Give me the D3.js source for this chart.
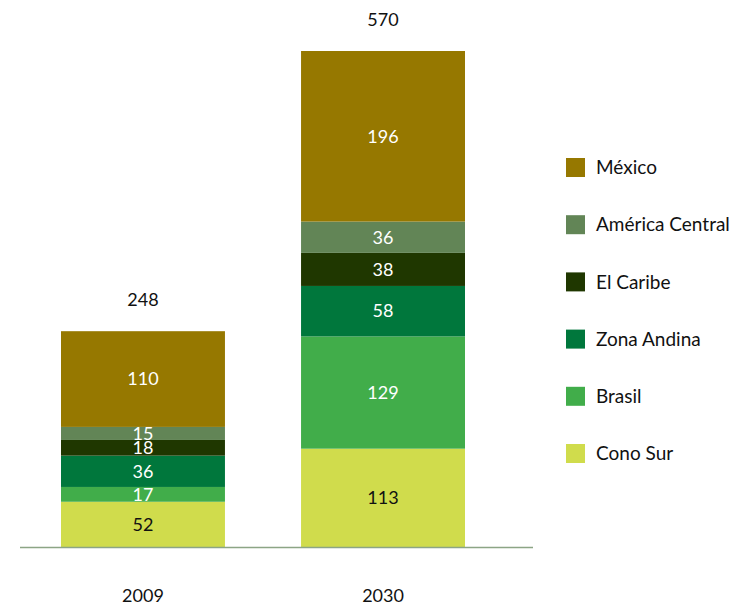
<!DOCTYPE html>
<html>
<head>
<meta charset="utf-8">
<script src="https://cdn.jsdelivr.net/npm/d3@7"></script>
<style>
  html, body { margin: 0; padding: 0; background: #fff; }
  svg text { font-family: Lato, "Open Sans", sans-serif; }
</style>
</head>
<body>
<svg id="chart" width="736" height="610"></svg>
<script>
// Years on the x axis
const years = ["2009", "2030"];
// Regions, stacked bottom to top
const regions = ["Cono Sur", "Brasil", "Zona Andina", "El Caribe", "América Central", "México"];
// Values per region, one entry per year
const conoSur = [52, 113];
const brasil = [17, 129];
const zonaAndina = [36, 58];
const elCaribe = [18, 38];
const americaCentral = [15, 36];
const mexico = [110, 196];
// Totals printed above the bars
const totals = [248, 570];

const colors = ["#D0DC4C", "#41AD4A", "#00773C", "#1F3700", "#628556", "#967800"];
const labelColors = ["#111", "#fff", "#fff", "#fff", "#fff", "#fff"];

const seriesValues = [conoSur, brasil, zonaAndina, elCaribe, americaCentral, mexico];
const rows = years.map((y, i) => {
  const r = { year: y };
  regions.forEach((name, k) => { r[name] = seriesValues[k][i]; });
  return r;
});

const svg = d3.select("#chart");

const x = d3.scaleBand().domain(years).range([61, 465]).paddingInner(0.317).paddingOuter(0);
const y = d3.scaleLinear().domain([0, 570]).range([547, 51]);

const stack = d3.stack().keys(regions)(rows);

const layer = svg.append("g").selectAll("g")
  .data(stack).join("g")
  .attr("fill", (d, i) => colors[i]);

layer.selectAll("rect")
  .data(d => d)
  .join("rect")
  .attr("x", d => x(d.data.year))
  .attr("width", x.bandwidth())
  .attr("y", d => y(d[1]))
  .attr("height", d => y(d[0]) - y(d[1]));

// Segment value labels
stack.forEach((s, k) => {
  svg.append("g").selectAll("text")
    .data(s).join("text")
    .attr("x", d => x(d.data.year) + x.bandwidth() / 2)
    .attr("y", d => (y(d[0]) + y(d[1])) / 2)
    .attr("dy", "0.35em")
    .attr("text-anchor", "middle")
    .attr("font-size", 18)
    .attr("fill", labelColors[k])
    .text(d => d[1] - d[0]);
});

// Baseline
svg.append("line")
  .attr("x1", 20).attr("x2", 533)
  .attr("y1", y(0) + 0.5).attr("y2", y(0) + 0.5)
  .attr("stroke", "#8CA585").attr("stroke-width", 1.5);

// Totals above bars
svg.append("g").selectAll("text")
  .data(years).join("text")
  .attr("x", d => x(d) + x.bandwidth() / 2)
  .attr("y", (d, i) => y(totals[i]) - 31)
  .attr("dy", "0.35em")
  .attr("text-anchor", "middle")
  .attr("font-size", 18)
  .attr("fill", "#111")
  .text((d, i) => totals[i]);

// Year labels
svg.append("g").selectAll("text")
  .data(years).join("text")
  .attr("x", d => x(d) + x.bandwidth() / 2)
  .attr("y", 596)
  .attr("dy", "0.35em")
  .attr("text-anchor", "middle")
  .attr("font-size", 18)
  .attr("fill", "#111")
  .text(d => d);

// Legend, top to bottom
const legendOrder = regions.slice().reverse();
const legend = svg.append("g").selectAll("g")
  .data(legendOrder).join("g")
  .attr("transform", (d, i) => `translate(566, ${167.5 + i * 57.2})`);
legend.append("rect")
  .attr("x", 0).attr("y", -9.5).attr("width", 19).attr("height", 19)
  .attr("fill", d => colors[regions.indexOf(d)]);
legend.append("text")
  .attr("x", 30).attr("y", 0).attr("dy", "0.35em")
  .attr("font-size", 19).attr("fill", "#111")
  .text(d => d);
</script>
</body>
</html>
